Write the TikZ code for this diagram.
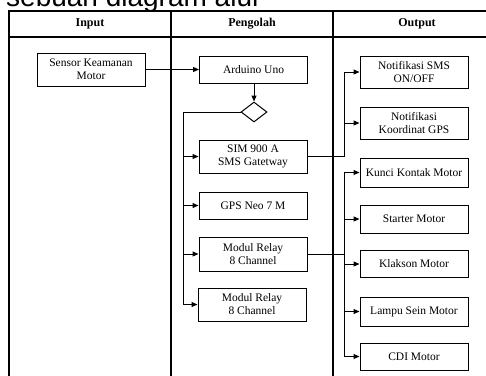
\documentclass[tikz,border=0pt]{standalone}
\usepackage{fontspec}
\setmainfont{Liberation Serif}
\newfontfamily\titlefont{Liberation Sans}
\usetikzlibrary{arrows.meta,shapes.geometric}

\tikzset{
  box/.style={draw, line width=1pt, align=center, inner sep=0pt,
    minimum width=108, minimum height=30},
  frame/.style={line width=1.3pt},
  link/.style={line width=1pt}
}

\begin{document}
\begin{tikzpicture}[x=1pt,y=-1pt,
    >={Triangle[length=6pt,width=5pt]},
    font=\fontsize{11.5}{13}\selectfont]

        \useasboundingbox (0,0) rectangle (486,375);
        \clip (0,0) rectangle (486,375);

        % title line above the chart, cut by the page edge
        \node[anchor=base west, inner sep=0pt,
          font=\titlefont\fontsize{28}{32}\selectfont] (title) at (6,6.5) {sebuah diagram alur};

        % lanes
        \draw[frame] (9,385) -- (9,11) -- (500,11);
        \draw[frame] (9,37) -- (500,37);
        \draw[frame] (171,11) -- (171,385);
        \draw[frame] (333,11) -- (333,385);

        \begin{scope}[every node/.style={font=\fontsize{12}{14}\selectfont\bfseries}]
          \node (hin)  at (90,24)  {Input};
          \node (hpro) at (252,24) {Pengolah};
          \node (hout) at (417,24) {Output};
        \end{scope}

        \begin{scope}[every node/.style={box}]
          \node (sensor)  at (91,69.5)   [minimum height=33] {Sensor Keamanan\\Motor};
          \node (arduino) at (253.5,69.5) [minimum height=27] {Arduino Uno};
          \node (sim)     at (253,156.5) [minimum height=33] {SIM 900 A\\SMS Gatetway};
          \node (gps)     at (253,205.5) [minimum height=27] {GPS Neo 7 M};
          \node (relayA)  at (253,254)   [minimum height=34] {Modul Relay\\8 Channel};
          \node (relayB)  at (252,304.5) [minimum height=33] {Modul Relay\\8 Channel};
          \node (sms)     at (414,72)    [minimum height=32] {Notifikasi SMS\\ON/OFF};
          \node (koord)   at (414,123)   [minimum height=32] {Notifikasi\\Koordinat GPS};
          \node (kunci)   at (414,172.5) [minimum height=29] {Kunci Kontak Motor};
          \node (starter) at (414,219)   [minimum height=28] {Starter Motor};
          \node (klakson) at (414,264)   [minimum height=27] {Klakson Motor};
          \node (lampu)   at (414,311.5) [minimum height=29] {Lampu Sein Motor};
          \node (cdi)     at (414,356.5) [minimum height=27] {CDI Motor};
        \end{scope}

        \node[draw, line width=1pt, diamond, inner sep=0pt, minimum width=26,
          minimum height=20] (cek) at (254,112) {};

        \coordinate (busL)  at (183,112);
        \coordinate (busR1) at (344,156.5);
        \coordinate (busR2) at (344,254);

        \begin{scope}[every path/.style={link}]
          \draw[->] (sensor) -- (arduino);
          \draw[->] (arduino.south -| cek.north) -- (cek.north);

          \draw (cek.west) -- (busL) -- (busL |- relayB.west);
          \draw[->] (busL |- sim.west) -- (sim.west);
          \draw[->] (busL |- gps.west) -- (gps.west);
          \draw[->] (busL |- relayA.west) -- (relayA.west);
          \draw[->] (busL |- relayB.west) -- (relayB.west);

          \draw (sim.east) -- (busR1) -- (busR1 |- sms.west);
          \draw[->] (busR1 |- sms.west) -- (sms.west);
          \draw[->] (busR1 |- koord.west) -- (koord.west);

          \draw (relayA.east) -- (busR2);
          \draw (busR2 |- kunci.west) -- (busR2 |- cdi.west);
          \draw[->] (busR2 |- kunci.west) -- (kunci.west);
          \draw[->] (busR2 |- starter.west) -- (starter.west);
          \draw[->] (busR2 |- klakson.west) -- (klakson.west);
          \draw[->] (busR2 |- lampu.west) -- (lampu.west);
          \draw[->] (busR2 |- cdi.west) -- (cdi.west);
        \end{scope}

      \end{tikzpicture}
\end{document}
